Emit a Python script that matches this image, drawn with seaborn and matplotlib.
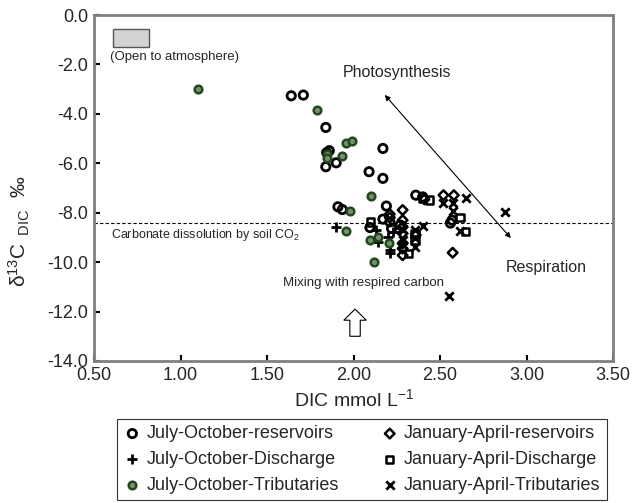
import matplotlib
matplotlib.use("Agg")
import matplotlib.pyplot as plt
import seaborn as sns
import pandas as pd
from matplotlib.patches import Rectangle, FancyArrow

# ---- data ----
jo_res_x = [1.64, 1.71, 1.84, 1.86, 1.845, 1.90, 1.84, 1.91, 1.935, 2.17, 2.09, 2.17, 2.36, 2.40,
            2.19, 2.17, 2.095, 2.21, 2.22, 2.27, 2.57, 2.56]
jo_res_y = [-3.27, -3.24, -4.55, -5.49, -5.57, -5.98, -6.14, -7.76, -7.87, -5.40, -6.34, -6.61, -7.29, -7.36,
            -7.73, -8.26, -8.60, -8.37, -8.64, -8.50, -8.30, -8.42]
jo_dis_x = [1.90, 2.13, 2.14, 2.21, 2.21, 2.23, 2.20]
jo_dis_y = [-8.57, -8.68, -9.18, -9.49, -9.65, -8.77, -9.00]
jo_trib_x = [1.10, 1.79, 1.845, 1.845, 1.935, 1.955, 1.99, 1.98, 1.955, 2.10, 2.144, 2.095, 2.118, 2.207]
jo_trib_y = [-3.01, -3.85, -5.62, -5.78, -5.72, -5.16, -5.10, -7.92, -8.75, -7.33, -8.97, -9.11, -9.99, -9.24]
ja_res_x = [2.284, 2.284, 2.284, 2.284, 2.284, 2.284, 2.284, 2.21, 2.41, 2.52, 2.58, 2.573, 2.21, 2.36]
ja_res_y = [-7.89, -8.30, -8.57, -8.84, -9.24, -9.45, -9.72, -8.06, -7.46, -7.29, -7.29, -9.62, -8.20, -8.90]
ja_dis_x = [2.44, 2.10, 2.616, 2.648, 2.317, 2.355, 2.355, 2.40]
ja_dis_y = [-7.49, -8.37, -8.19, -8.77, -9.65, -8.84, -9.10, -7.42]
ja_trib_x = [2.515, 2.577, 2.65, 2.876, 2.577, 2.40, 2.355, 2.355, 2.355, 2.616, 2.554, 2.284, 2.284, 2.284]
ja_trib_y = [-7.60, -7.60, -7.42, -7.96, -7.94, -8.54, -8.70, -9.04, -9.38, -8.73, -11.38, -8.70, -9.10, -9.30]

labels = ["July-October-reservoirs", "July-October-Discharge", "July-October-Tributaries",
          "January-April-reservoirs", "January-April-Discharge", "January-April-Tributaries"]
xticks = [0.5, 1.0, 1.5, 2.0, 2.5, 3.0, 3.5]
yticks = [0, -2, -4, -6, -8, -10, -12, -14]

sns.set_style("ticks")
plt.rcParams['font.family'] = ['Liberation Sans', 'DejaVu Sans']
plt.rcParams['mathtext.fontset'] = 'custom'
plt.rcParams['mathtext.rm'] = 'Liberation Sans'
plt.rcParams['mathtext.it'] = 'Liberation Sans:italic'
plt.rcParams['axes.unicode_minus'] = False

fig = plt.figure(figsize=(6.44, 5.03), dpi=100)
ax = fig.add_axes([94/644, 1-361/503, (613-94)/644, (361-15)/503])

series = [
    (jo_res_x, jo_res_y, dict(marker='o', facecolor='none', edgecolor='black', linewidth=2.0, s=36)),
    (jo_dis_x, jo_dis_y, dict(marker='+', color='black', linewidth=2.0, s=55)),
    (jo_trib_x, jo_trib_y, dict(marker='o', facecolor='#7d8c72', edgecolor='#1f4a1c', linewidth=1.8, s=30)),
    (ja_res_x, ja_res_y, dict(marker='D', facecolor='none', edgecolor='black', linewidth=1.8, s=24)),
    (ja_dis_x, ja_dis_y, dict(marker='s', facecolor='none', edgecolor='black', linewidth=1.8, s=28)),
    (ja_trib_x, ja_trib_y, dict(marker='x', color='black', linewidth=2.0, s=36)),
]
for (xs, ys, kw), lab in zip(series, labels):
    df = pd.DataFrame({"x": xs, "y": ys})
    sns.scatterplot(data=df, x="x", y="y", ax=ax, label=lab, zorder=3, **kw)

ax.set_xlim(0.5, 3.5)
ax.set_ylim(-14, 0)
ax.set_xticks(xticks)
ax.set_xticklabels([f"{v:.2f}" for v in xticks])
ax.set_yticks(yticks)
ax.set_yticklabels([f"{v:.1f}" for v in yticks])
ax.tick_params(direction='in', length=4, width=1.5, color='black', labelsize=13)
ax.tick_params(axis='y', pad=4)
ax.tick_params(axis='x', pad=4)
for sp in ax.spines.values():
    sp.set_color('#808080')
    sp.set_linewidth(2)
ax.set_xlabel("DIC mmol L$^{-1}$", fontsize=14, labelpad=3)
ax.set_ylabel("\u03b4$^{13}$C$_{\\ \\ \\mathrm{DIC}}$  \u2030", fontsize=15)
ax.yaxis.set_label_coords(-0.12, 0.375)

# annotations
ax.axhline(-8.4, color='black', linestyle=(0, (3, 2)), linewidth=0.8, zorder=1)
ax.add_patch(Rectangle((0.608, -1.28), 0.212, 0.71, facecolor='#d3d3d3', edgecolor='#555555', linewidth=1))
ax.text(0.592, -1.69, "(Open to atmosphere)", fontsize=9.5, va='center', ha='left')
ax.text(2.25, -2.31, "Photosynthesis", fontsize=11.5, va='center', ha='center')
ax.text(3.117, -10.22, "Respiration", fontsize=11.5, va='center', ha='center')
ax.text(0.596, -8.9, "Carbonate dissolution by soil CO$_2$", fontsize=9, va='center', ha='left')
ax.text(2.055, -10.84, "Mixing with respired carbon", fontsize=9.5, va='center', ha='center')
ax.annotate("", xy=(2.92, -9.11), xytext=(2.17, -3.15),
            arrowprops=dict(arrowstyle='<|-|>', color='black', lw=0.8, mutation_scale=8))
ax.add_patch(FancyArrow(2.009, -13.0, 0, 1.1, width=0.06, head_width=0.13, head_length=0.45,
                        length_includes_head=True, facecolor='white', edgecolor='black', linewidth=0.8, zorder=2))

leg = ax.legend(loc='upper left', bbox_to_anchor=(117/644, 1-419/503), bbox_transform=fig.transFigure,
                ncol=2, fontsize=13, frameon=True, fancybox=False, edgecolor='black',
                handletextpad=0.3, columnspacing=2.3, labelspacing=0.48, borderpad=0.35,
                handlelength=1.0, borderaxespad=0)
leg.get_frame().set_linewidth(0.8)

fig.savefig("out.png", dpi=100)
